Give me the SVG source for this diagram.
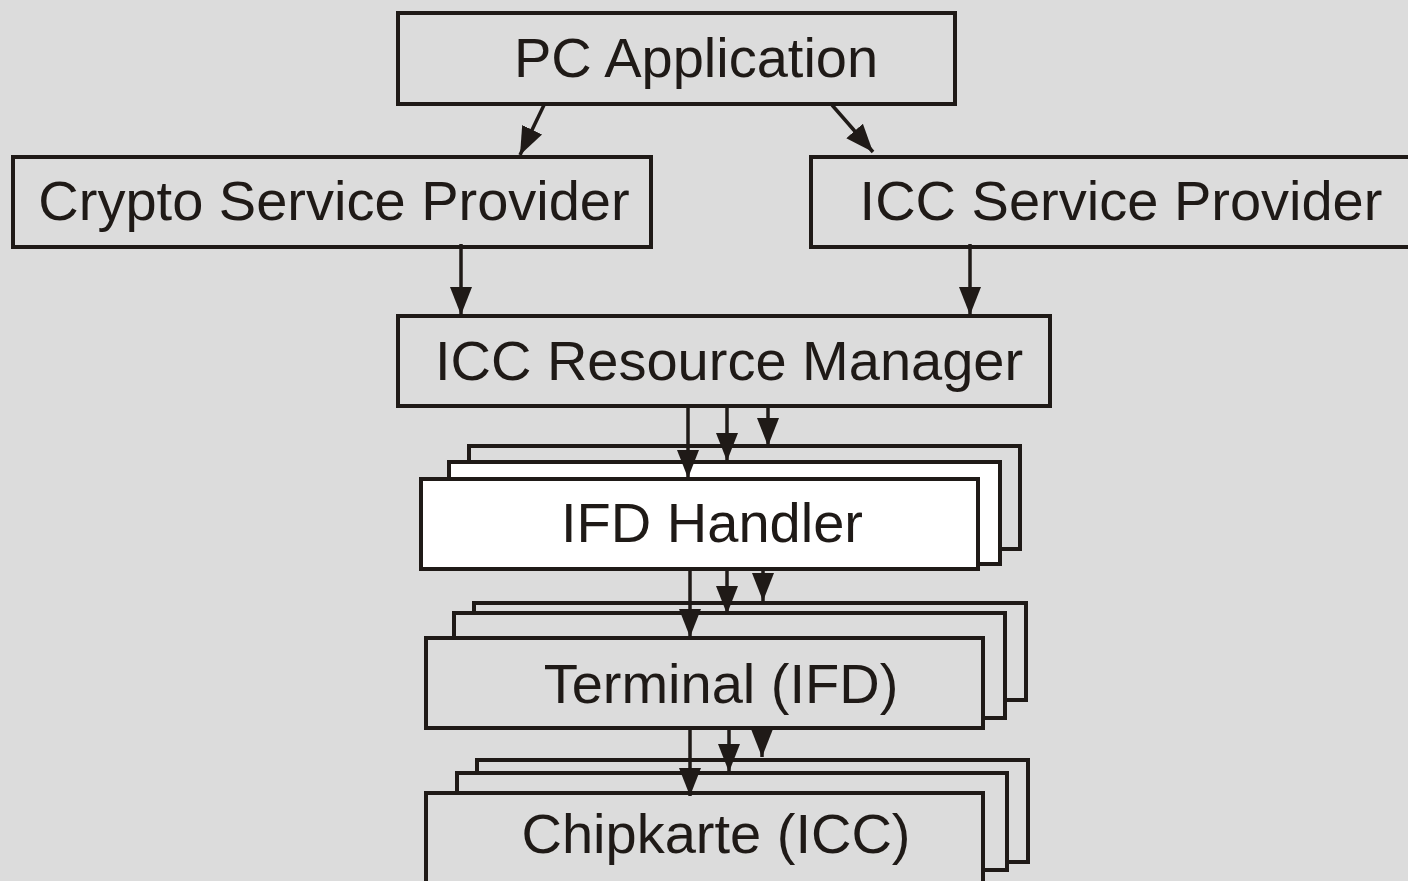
<svg xmlns="http://www.w3.org/2000/svg" width="1408" height="881" viewBox="0 0 1408 881">
<defs>
<style>
.box{fill:#dcdcdc;stroke:#1f1a17;stroke-width:4}
.wbox{fill:#ffffff;stroke:#1f1a17;stroke-width:4}
.lbl{font-family:"Liberation Sans",Arial,sans-serif;font-size:56px;fill:#1f1a17;text-anchor:middle}
.con{stroke:#1f1a17;stroke-width:3.5;fill:none;marker-end:url(#ah)}
</style>
<marker id="ah" markerUnits="userSpaceOnUse" markerWidth="30" markerHeight="24" refX="28" refY="12" orient="auto" viewBox="0 0 30 24">
<path d="M0,1 L28,12 L0,23 z" fill="#1f1a17"/>
</marker>
</defs>
<rect x="0" y="0" width="1408" height="881" fill="#dcdcdc"/>

<g id="pc-application">
<rect class="box" x="398" y="13" width="557" height="91"/>
<text class="lbl" x="696" y="77">PC Application</text>
</g>
<g id="crypto-service-provider">
<rect class="box" x="13" y="157" width="638" height="90"/>
<text class="lbl" x="334" y="220">Crypto Service Provider</text>
</g>
<g id="icc-service-provider">
<rect class="box" x="811" y="157" width="610" height="90"/>
<text class="lbl" x="1121" y="220">ICC Service Provider</text>
</g>
<g id="icc-resource-manager">
<rect class="box" x="398" y="316" width="652" height="90"/>
<text class="lbl" x="729" y="380">ICC Resource Manager</text>
</g>
<g id="ifd-handler">
<rect class="box" x="469" y="446" width="551" height="103"/>
<rect class="wbox" x="449" y="462" width="551" height="102"/>
<rect class="wbox" x="421" y="479" width="557" height="90"/>
<text class="lbl" x="712" y="542">IFD Handler</text>
</g>
<g id="terminal-ifd">
<rect class="box" x="474" y="603" width="552" height="97"/>
<rect class="box" x="454" y="613" width="551" height="105"/>
<rect class="box" x="426" y="638" width="557" height="90"/>
<text class="lbl" x="721" y="703">Terminal (IFD)</text>
</g>
<g id="chipkarte-icc">
<rect class="box" x="477" y="760" width="551" height="102"/>
<rect class="box" x="457" y="773" width="550" height="97"/>
<rect class="box" x="426" y="793" width="557" height="100"/>
<text class="lbl" x="716" y="853">Chipkarte (ICC)</text>
</g>

<g id="connectors">
<line class="con" x1="544" y1="105" x2="520" y2="155"/>
<line class="con" x1="832" y1="105" x2="873" y2="152"/>
<line class="con" x1="461" y1="244" x2="461" y2="315"/>
<line class="con" x1="970" y1="244" x2="970" y2="315"/>
<line class="con" x1="688" y1="408" x2="688" y2="478"/>
<line class="con" x1="727" y1="408" x2="727" y2="461"/>
<line class="con" x1="768" y1="408" x2="768" y2="446"/>
<line class="con" x1="690" y1="571" x2="690" y2="637"/>
<line class="con" x1="727" y1="571" x2="727" y2="614"/>
<line class="con" x1="763" y1="571" x2="763" y2="601"/>
<line class="con" x1="690" y1="730" x2="690" y2="796"/>
<line class="con" x1="729" y1="730" x2="729" y2="772"/>
<line class="con" x1="762" y1="730" x2="762" y2="757"/>
</g>
</svg>
